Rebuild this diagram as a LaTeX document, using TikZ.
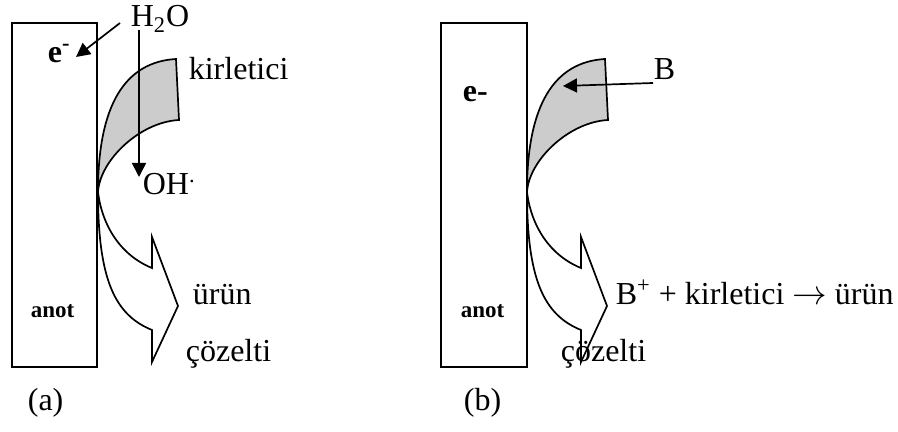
\documentclass[tikz,border=0pt]{standalone}
\usepackage{fontspec}
\setmainfont{Liberation Serif}
\usetikzlibrary{arrows.meta}
\begin{document}
\begin{tikzpicture}[x=0.5pt,y=-0.5pt, line width=0.85pt,
  every node/.style={inner sep=0pt,anchor=base west,font=\fontsize{16}{19}\selectfont},
  lbl/.style={font=\fontsize{11.5}{13}\selectfont\bfseries},
  band/.style={fill=black!20,draw=black},
  flow/.style={-{Triangle[length=7pt,width=7pt]}}]
\useasboundingbox (0,0) rectangle (898,432);
% (a)
\draw (12,23) rectangle (97,367);
\draw[band] (176,59) .. controls (125,62) and (98,105) .. (98,192)
  .. controls (100,160) and (140,122) .. (179,120) -- cycle;
\draw (98,192) .. controls (102,225) and (120,255) .. (152,268) -- (152,237) -- (178,306)
  -- (152,362) -- (152,330) .. controls (115,315) and (98,280) .. (98,192);
\node (h2oA) at (130,27) {H\textsubscript{2}O};
\node[font=\fontsize{16}{19}\selectfont\bfseries] (eA) at (47,63) {e\textsuperscript{-}};
\node (kirA) at (188,80) {kirletici};
\node (ohA) at (142,195) {OH\textsuperscript{.}};
\node (urunA) at (192,305) {ürün};
\node (cozA) at (185,361) {çözelti};
\node[lbl] (anotA) at (30,318) {anot};
\node (capA) at (27,410) {(a)};
\coordinate (h2oOutA) at (120,23);
\coordinate (eInA) at (76,57);
\coordinate (h2oDownA) at (139,30);
\coordinate (ohInA) at (139,177);
\draw[flow] (h2oOutA) -- (eInA);
\draw[flow] (h2oDownA) -- (ohInA);
% (b)
\draw (441,23) rectangle (527,367);
\draw[band] (605,59) .. controls (554,62) and (527,105) .. (527,192)
  .. controls (529,160) and (569,122) .. (608,120) -- cycle;
\draw (527,192) .. controls (531,225) and (549,255) .. (581,268) -- (581,237) -- (607,306)
  -- (581,362) -- (581,330) .. controls (544,315) and (527,280) .. (527,192);
\node[font=\fontsize{16}{19}\selectfont\bfseries] (eB) at (462,102) {e-};
\node (bB) at (653,80) {B};
\node (eqB) at (615,305) {B\textsuperscript{+} + kirletici $\rightarrow$ ürün};
\node (cozB) at (560,361) {çözelti};
\node[lbl] (anotB) at (460,318) {anot};
\node (capB) at (463,410) {(b)};
\coordinate (bOutB) at (653,83);
\coordinate (bInB) at (563,86);
\draw[flow] (bOutB) -- (bInB);
\end{tikzpicture}
\end{document}
